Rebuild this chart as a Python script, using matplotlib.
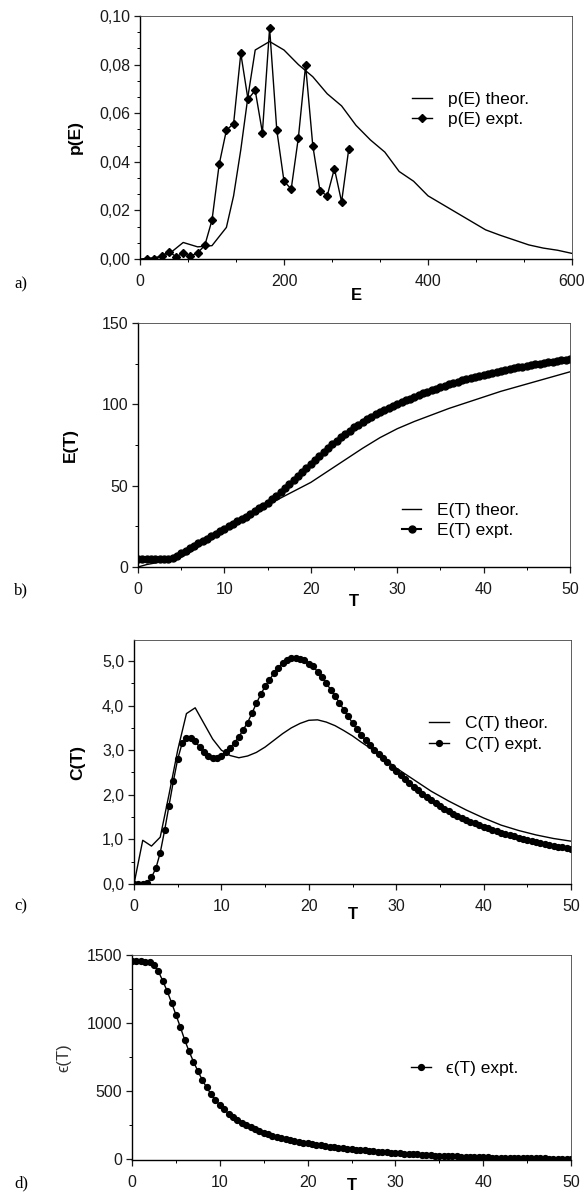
import matplotlib
matplotlib.use("Agg")
import matplotlib.pyplot as plt
import numpy as np
from matplotlib.ticker import MultipleLocator, FuncFormatter

plt.rcParams['font.family'] = ['Liberation Sans', 'DejaVu Sans']

# ---- panel a: p(E) ----
E_theor = [0, 20, 40, 60, 80, 100, 120, 130, 140, 150, 160, 180, 200, 220, 240,
           260, 280, 300, 320, 340, 360, 380, 400, 420, 440, 460, 480, 500,
           520, 540, 560, 580, 600]
p_theor = [0.0, 0.0005, 0.002, 0.0068, 0.005, 0.0055, 0.013, 0.026, 0.045,
           0.067, 0.086, 0.0895, 0.086, 0.080, 0.075, 0.068, 0.063, 0.055,
           0.049, 0.044, 0.036, 0.032, 0.026, 0.0225, 0.019, 0.0155, 0.012,
           0.0098, 0.0078, 0.0058, 0.0045, 0.0036, 0.0023]
E_expt = [10, 20, 30, 40, 50, 60, 70, 80, 90, 100, 110, 120, 130, 140, 150,
          160, 170, 180, 190, 200, 210, 220, 230, 240, 250, 260, 270, 280, 290]
p_expt = [0.0, 0.0, 0.0013, 0.003, 0.001, 0.0023, 0.0012, 0.0025, 0.0056,
          0.016, 0.039, 0.053, 0.0557, 0.0846, 0.0657, 0.0694, 0.052, 0.095,
          0.053, 0.032, 0.0288, 0.050, 0.0797, 0.0466, 0.028, 0.026, 0.0372,
          0.0235, 0.0454]

# ---- panel b: E(T) ----
T_b_theor = [0, 1, 2, 3, 4, 5, 6, 8, 10, 12, 14, 15, 16, 18, 20, 22, 24, 26,
             28, 30, 32, 34, 36, 38, 40, 42, 44, 46, 48, 50]
E_b_theor = [0, 1.5, 2.5, 3.5, 4.5, 6, 9, 16, 23, 29.5, 35.5, 38.5, 41, 46.5,
             52, 59, 66, 73, 79.5, 85, 89.5, 93.5, 97.5, 101, 104.5, 108, 111,
             114, 117, 120]
T_expt = np.arange(0, 50.01, 0.5)
E_b_expt = [5.0, 5.0, 4.8, 4.8, 4.7, 4.8, 5.0, 5.2, 5.5, 6.5,
            8.5, 10, 11.5, 13, 14.5, 16, 17.5, 19, 20.5, 22,
            23.5, 25, 26.5, 28, 29.5, 31, 32.5, 34.2, 36, 37.8,
            39.5, 41.5, 43.5, 46, 48.5, 51, 53.5, 56, 58.5, 61,
            63.5, 66, 68.5, 71, 73.3, 75.5, 77.7, 79.8, 81.8, 83.8,
            85.8, 87.5, 89.2, 90.8, 92.3, 93.8, 95.2, 96.5, 97.8, 99,
            100.2, 101.3, 102.4, 103.5, 104.6, 105.7, 106.8, 107.8, 108.8, 109.7,
            110.6, 111.5, 112.3, 113.1, 113.9, 114.7, 115.4, 116.1, 116.8, 117.5,
            118.2, 118.8, 119.4, 120, 120.6, 121.2, 121.7, 122.2, 122.7, 123.2,
            123.7, 124.2, 124.7, 125.1, 125.5, 125.9, 126.3, 126.7, 127.1, 127.5,
            127.8]

# ---- panel c: C(T) ----
T_c_theor = [0, 1, 2, 3, 4, 5, 6, 7, 8, 9, 10, 11, 12, 13, 14, 15, 16, 17, 18,
             19, 20, 21, 22, 23, 24, 25, 26, 27, 28, 29, 30, 32, 34, 36, 38,
             40, 42, 44, 46, 48, 50]
C_c_theor = [0, 0.98, 0.85, 1.05, 2.0, 3.0, 3.82, 3.95, 3.6, 3.25, 3.0, 2.88,
             2.83, 2.87, 2.95, 3.07, 3.22, 3.37, 3.5, 3.6, 3.67, 3.68, 3.63,
             3.55, 3.44, 3.32, 3.18, 3.05, 2.9, 2.75, 2.6, 2.34, 2.08, 1.86,
             1.66, 1.48, 1.32, 1.2, 1.1, 1.02, 0.96]
C_c_expt = [0.0, 0.0, 0.0, 0.03, 0.15, 0.35, 0.7, 1.2, 1.75, 2.3,
            2.8, 3.15, 3.27, 3.28, 3.2, 3.07, 2.95, 2.87, 2.82, 2.83,
            2.88, 2.95, 3.05, 3.17, 3.3, 3.46, 3.62, 3.83, 4.05, 4.25,
            4.43, 4.58, 4.72, 4.85, 4.96, 5.03, 5.07, 5.07, 5.05, 5.02,
            4.94, 4.88, 4.76, 4.64, 4.5, 4.36, 4.22, 4.06, 3.91, 3.76,
            3.61, 3.47, 3.34, 3.22, 3.11, 3.01, 2.92, 2.83, 2.73, 2.63,
            2.53, 2.44, 2.35, 2.27, 2.18, 2.1, 2.02, 1.95, 1.88, 1.81,
            1.75, 1.69, 1.63, 1.58, 1.53, 1.48, 1.44, 1.4, 1.36, 1.32,
            1.28, 1.25, 1.21, 1.18, 1.15, 1.12, 1.09, 1.07, 1.04, 1.01,
            0.98, 0.96, 0.94, 0.92, 0.9, 0.88, 0.86, 0.84, 0.82, 0.8,
            0.78]

# ---- panel d: eps(T) ----
eps_expt = [1455, 1455, 1455, 1452, 1445, 1425, 1380, 1310, 1235, 1150,
            1060, 970, 875, 790, 715, 645, 580, 525, 475, 430,
            395, 362, 332, 305, 282, 262, 245, 230, 216, 203,
            191, 180, 170, 161, 152, 144, 137, 130, 124, 118,
            112, 107, 102, 97, 92, 88, 84, 80, 76, 72,
            69, 66, 63, 60, 57, 54, 51, 49, 46, 44,
            42, 40, 37, 35, 33, 31, 29, 27, 25, 23,
            21, 20, 18, 17, 16, 15, 14, 13, 12, 11,
            10, 9, 8, 8, 7, 6, 6, 5, 5, 4,
            4, 3, 3, 2, 2, 1, 1, 0, 0, -1,
            -2]

W, H = 584, 1199
fig = plt.figure(figsize=(W / 100, H / 100), dpi=100)


def rect(l, r, t, b):
    return [l / W, 1 - b / H, (r - l) / W, (b - t) / H]


def style(ax):
    for s in ['top', 'right']:
        ax.spines[s].set_linewidth(0.6)
        ax.spines[s].set_color('#444444')
    for s in ['left', 'bottom']:
        ax.spines[s].set_linewidth(1.0)
    ax.tick_params(which='major', direction='out', length=4, width=0.9,
                   labelsize=11.5, colors='#1a1a1a', top=False, right=False)
    ax.tick_params(axis='x', which='major', pad=7)
    ax.tick_params(axis='y', which='major', pad=3)
    ax.tick_params(which='minor', direction='out', length=2.5, width=0.7,
                   top=False, right=False)


ybold = dict(fontsize=12.5, fontweight='bold')
xbold = dict(fontsize=12, fontweight='bold')
leg_kw = dict(frameon=False, fontsize=12.5, handlelength=1.15,
              handletextpad=0.9, borderpad=0, borderaxespad=0,
              labelspacing=0.3, loc='center left')
comma2 = FuncFormatter(lambda v, p: f"{v:.2f}".replace('.', ','))
comma1 = FuncFormatter(lambda v, p: f"{v:.1f}".replace('.', ','))

# a)
ax = fig.add_axes(rect(140, 572, 16, 259))
ax.plot(E_theor, p_theor, 'k-', lw=1.0, label='p(E) theor.')
ax.plot(E_expt, p_expt, 'k-', lw=1.0, marker='D', ms=4,
        label='p(E) expt.')
ax.set_xlim(0, 600)
ax.set_ylim(0, 0.10)
ax.xaxis.set_major_locator(MultipleLocator(200))
ax.xaxis.set_minor_locator(MultipleLocator(200 / 3))
ax.yaxis.set_major_locator(MultipleLocator(0.02))
ax.yaxis.set_minor_locator(MultipleLocator(0.02 / 3))
ax.yaxis.set_major_formatter(comma2)
style(ax)
ax.set_xlabel('E', **xbold)
ax.set_ylabel('p(E)', **ybold)
ax.xaxis.set_label_coords(0.5, -0.12)
ax.yaxis.set_label_coords(-0.132, 0.5)
ax.legend(bbox_to_anchor=(0.63, 0.615), **leg_kw)
fig.text(14 / W, 1 - 284 / H, 'a)', family='Liberation Serif', fontsize=12,
         va='center')

# b)
ax = fig.add_axes(rect(138, 570, 323, 567))
ax.plot(T_b_theor, E_b_theor, 'k-', lw=1.0, label='E(T) theor.')
ax.plot(T_expt, E_b_expt, 'k-', lw=1.5, marker='o', ms=5,
        label='E(T) expt.')
ax.set_xlim(0, 50)
ax.set_ylim(0, 150)
ax.xaxis.set_major_locator(MultipleLocator(10))
ax.xaxis.set_minor_locator(MultipleLocator(5))
ax.yaxis.set_major_locator(MultipleLocator(50))
ax.yaxis.set_minor_locator(MultipleLocator(25))
style(ax)
ax.set_xlabel('T', **xbold)
ax.set_ylabel('E(T)', **ybold)
ax.xaxis.set_label_coords(0.5, -0.11)
ax.yaxis.set_label_coords(-0.14, 0.5)
ax.legend(bbox_to_anchor=(0.61, 0.19), **leg_kw)
fig.text(14 / W, 1 - 590 / H, 'b)', family='Liberation Serif', fontsize=12,
         va='center')

# c)
ax = fig.add_axes(rect(134, 571, 640, 884))
ax.plot(T_c_theor, C_c_theor, 'k-', lw=1.0, label='C(T) theor.')
ax.plot(T_expt, C_c_expt, 'k-', lw=1.0, marker='o', ms=4.2,
        label='C(T) expt.')
ax.set_xlim(0, 50)
ax.set_ylim(0, 5.47)
ax.xaxis.set_major_locator(MultipleLocator(10))
ax.xaxis.set_minor_locator(MultipleLocator(5))
ax.yaxis.set_major_locator(MultipleLocator(1))
ax.yaxis.set_minor_locator(MultipleLocator(0.5))
ax.yaxis.set_major_formatter(comma1)
style(ax)
ax.set_xlabel('T', **xbold)
ax.set_ylabel('C(T)', **ybold)
ax.xaxis.set_label_coords(0.5, -0.095)
ax.yaxis.set_label_coords(-0.112, 0.5)
ax.legend(bbox_to_anchor=(0.675, 0.615), **leg_kw)
fig.text(14 / W, 1 - 906 / H, 'c)', family='Liberation Serif', fontsize=12,
         va='center')

# d)
ax = fig.add_axes(rect(132, 571, 955, 1160))
ax.plot(T_expt, eps_expt, 'k-', lw=1.0, marker='o', ms=4.2,
        label='\u03f5(T) expt.')
ax.set_xlim(0, 50)
ax.set_ylim(-10, 1500)
ax.xaxis.set_major_locator(MultipleLocator(10))
ax.xaxis.set_minor_locator(MultipleLocator(5))
ax.yaxis.set_major_locator(MultipleLocator(500))
ax.yaxis.set_minor_locator(MultipleLocator(250))
style(ax)
ax.set_xlabel('T', **xbold)
ax.set_ylabel('\u03f5(T)', fontsize=12, color='#333333')
ax.xaxis.set_label_coords(0.5, -0.09)
ax.yaxis.set_label_coords(-0.137, 0.5)
ax.legend(bbox_to_anchor=(0.635, 0.447), **leg_kw)
fig.text(14 / W, 1 - 1183 / H, 'd)', family='Liberation Serif', fontsize=12,
         va='center')

fig.savefig('out.png', dpi=100)
